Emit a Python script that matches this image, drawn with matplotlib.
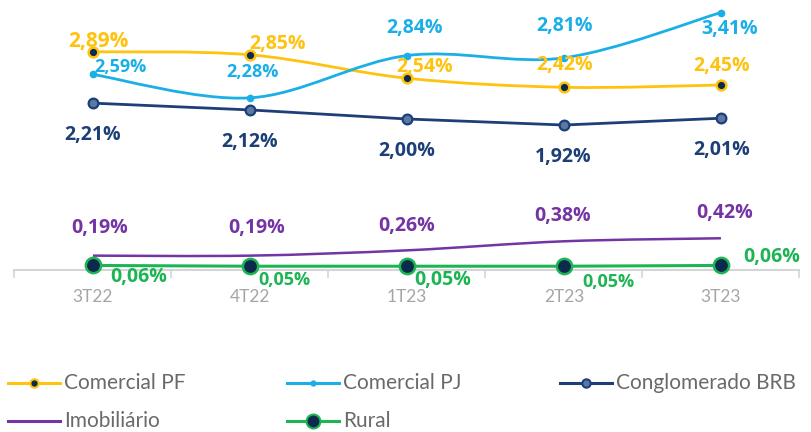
import matplotlib
matplotlib.use('Agg')
import matplotlib.pyplot as plt
from matplotlib.path import Path
import matplotlib.patches as patches
from matplotlib.lines import Line2D

# data
quarters = ['3T22', '4T22', '1T23', '2T23', '3T23']
comercial_pf = [2.89, 2.85, 2.54, 2.42, 2.45]
comercial_pj = [2.59, 2.28, 2.84, 2.81, 3.41]
conglomerado = [2.21, 2.12, 2.00, 1.92, 2.01]
imobiliario = [0.19, 0.19, 0.26, 0.38, 0.42]
rural = [0.06, 0.05, 0.05, 0.05, 0.06]

YELLOW = '#FFC20E'
CYAN = '#1AAFE6'
NAVY = '#1C3F78'
PURPLE = '#7434A4'
GREEN = '#1DB554'
DARK = '#0B2A4E'

LABEL_FONT = ['Open Sans', 'DejaVu Sans']


def smooth_path(xs, ys):
    # catmull-rom style bezier through the points
    pts = list(zip(xs, ys))
    n = len(pts)
    verts = [pts[0]]
    codes = [Path.MOVETO]
    for i in range(n - 1):
        p0 = pts[i - 1] if i > 0 else pts[i]
        p1 = pts[i]
        p2 = pts[i + 1]
        p3 = pts[i + 2] if i + 2 < n else pts[i + 1]
        c1 = (p1[0] + (p2[0] - p0[0]) / 6, p1[1] + (p2[1] - p0[1]) / 6)
        c2 = (p2[0] - (p3[0] - p1[0]) / 6, p2[1] - (p3[1] - p1[1]) / 6)
        verts += [c1, c2, p2]
        codes += [Path.CURVE4] * 3
    return Path(verts, codes)


fig = plt.figure(figsize=(8.12, 4.32), dpi=100)
ax = fig.add_axes([0, 0, 1, 1])
ax.set_xlim(-0.592, 4.580)
ax.set_ylim(-2.146, 3.576)
x = list(range(len(quarters)))

# axis line with separators
for s in ['top', 'right', 'left']:
    ax.spines[s].set_visible(False)
ax.spines['bottom'].set_position(('data', 0))
ax.spines['bottom'].set_bounds(-0.5, 4.5)
ax.spines['bottom'].set_color('#d5d5d5')
ax.spines['bottom'].set_linewidth(1.5)
ax.set_yticks([])
ax.set_xticks(x)
ax.set_xticklabels(quarters, fontsize=12.5, color='#a5a5a5', family=['Lato', 'DejaVu Sans'])
ax.tick_params(axis='x', which='major', length=0, pad=14)
ax.set_xticks([i - 0.5 for i in range(len(quarters) + 1)], minor=True)
ax.tick_params(axis='x', which='minor', length=6, width=1.2, color='#d5d5d5', direction='out')

# smooth series
for ys, col, lw in [(comercial_pf, YELLOW, 2.0), (comercial_pj, CYAN, 2.0), (imobiliario, PURPLE, 1.8)]:
    ax.add_patch(patches.PathPatch(smooth_path(x, ys), fill=False, edgecolor=col, lw=lw, zorder=3))
ax.plot(x, conglomerado, color=NAVY, lw=2.0, zorder=3, marker='o', ms=7,
        mfc='#5b7aa3', mec=NAVY, mew=1.6)
ax.plot(x, comercial_pf, ls='none', marker='o', ms=7, mfc=DARK, mec=YELLOW, mew=1.8, zorder=4)
ax.plot(x, comercial_pj, ls='none', marker='o', ms=4.5, mfc=CYAN, mec=CYAN, zorder=4)
ax.plot(x, rural, color=GREEN, lw=2.2, marker='o', ms=11, mfc=DARK, mec=GREEN, mew=1.8, zorder=5)

# data labels (pixel offsets from the point)
labels = [
    (comercial_pf, YELLOW, [(5, 10), (28, 11), (18, 11), (1, 22), (1, 19)], [15, 14, 14, 14, 14]),
    (comercial_pj, CYAN, [(27, 7), (3, 26), (8, 28), (1, 32), (9, -16)], [13, 13, 14, 14, 14]),
    (conglomerado, NAVY, [(0, -32), (0, -32), (0, -32), (-1, -32), (1, -32)], [14, 14, 14, 14, 14]),
    (imobiliario, PURPLE, [(7, 28), (7, 28), (0, 24), (-1, 25), (4, 25)], [14, 14, 14, 14, 14]),
    (rural, GREEN, [(46, -12), (34, -14), (36, -14), (44, -16), (51, 8)], [14, 13, 14, 13, 14]),
]
for ys, col, offs, sizes in labels:
    for xi, yi, off, fs in zip(x, ys, offs, sizes):
        txt = ('%.2f' % yi).replace('.', ',') + '%'
        ax.annotate(txt, (xi, yi), xytext=off, textcoords='offset pixels',
                    ha='center', va='center', color=col, fontsize=fs,
                    fontweight='bold', family=LABEL_FONT, zorder=6)

# legend
legend_items = [
    ('Comercial PF', dict(color=YELLOW, marker='o', ms=6, mfc=DARK, mec=YELLOW, mew=1.5)),
    ('Comercial PJ', dict(color=CYAN, marker='o', ms=3.5, mfc=CYAN, mec=CYAN)),
    ('Conglomerado BRB', dict(color=NAVY, marker='o', ms=6, mfc='#5b7aa3', mec=NAVY, mew=1.5)),
    ('Imobiliário', dict(color=PURPLE)),
    ('Rural', dict(color=GREEN, marker='o', ms=10, mfc=DARK, mec=GREEN, mew=1.5)),
]
leg_x = [8, 287, 560]
leg_y = [383, 421]
for k, (name, style) in enumerate(legend_items):
    px = leg_x[k % 3]
    py = leg_y[k // 3]
    fxs = [px / 812, (px + 26) / 812, (px + 52) / 812]
    fy = 1 - py / 432
    fig.add_artist(Line2D(fxs, [fy] * 3, lw=2.2, markevery=[1], **style))
    fig.text((px + 56) / 812, fy, name, ha='left', va='center', fontsize=15,
             color='#6a6a6a', family=['Lato', 'DejaVu Sans'])

fig.savefig('out.png', dpi=100)
